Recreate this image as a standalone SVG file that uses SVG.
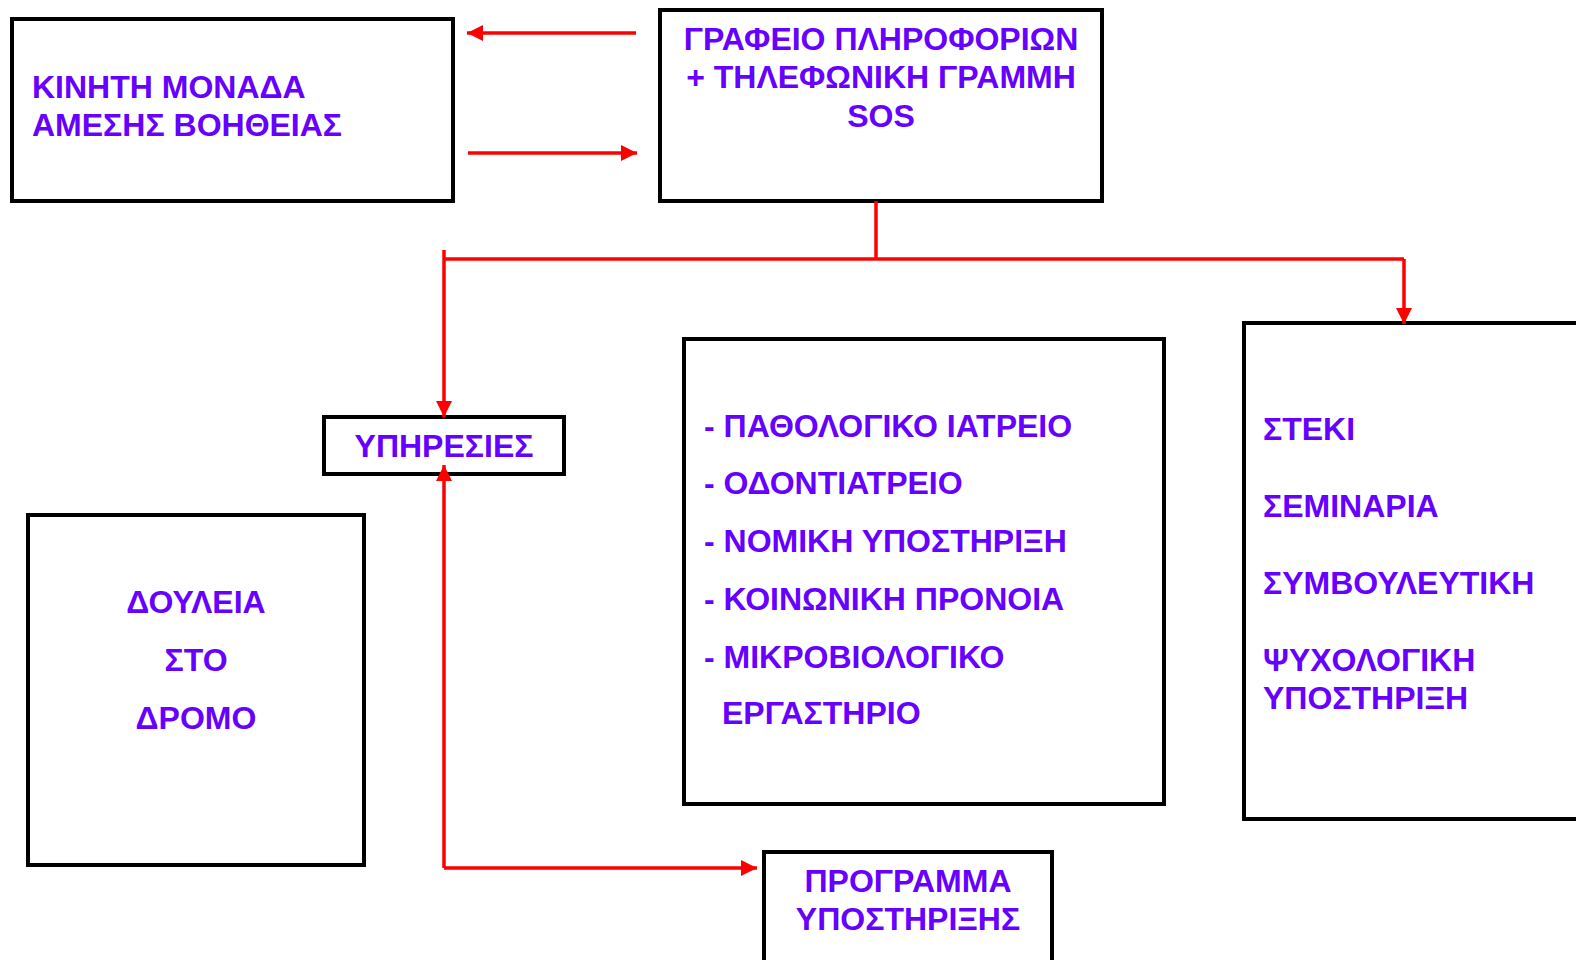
<svg xmlns="http://www.w3.org/2000/svg" width="1576" height="960" viewBox="0 0 1576 960">
<style>
.box{fill:#fff;stroke:#000;stroke-width:4}
.t{font-family:"Liberation Sans",Arial,sans-serif;font-weight:bold;font-size:32px;fill:#6600FF}
.c{text-anchor:middle}
.con{stroke:#FF0000;stroke-width:3.5;fill:none}
</style>
<defs>
<marker id="ah" markerWidth="16" markerHeight="16" refX="16" refY="8" orient="auto" markerUnits="userSpaceOnUse">
<path d="M0,0 L16,8 L0,16 Z" fill="#FF0000"/>
</marker>
</defs>
<rect width="1576" height="960" fill="#fff"/>
<g id="n-kinhth">
<rect class="box" x="12" y="19" width="441" height="182"/>
<text class="t" x="32" y="98">ΚΙΝΗΤΗ ΜΟΝΑΔΑ</text>
<text class="t" x="32" y="136">ΑΜΕΣΗΣ ΒΟΗΘΕΙΑΣ</text>
</g>
<g id="n-grafeio">
<rect class="box" x="660" y="10" width="442" height="191"/>
<text class="t c" x="881" y="50">ΓΡΑΦΕΙΟ ΠΛΗΡΟΦΟΡΙΩΝ</text>
<text class="t c" x="881" y="88">+ ΤΗΛΕΦΩΝΙΚΗ ΓΡΑΜΜΗ</text>
<text class="t c" x="881" y="127">SOS</text>
</g>
<g id="n-yphresies">
<rect class="box" x="324" y="417" width="240" height="57"/>
<text class="t c" x="444" y="457">ΥΠΗΡΕΣΙΕΣ</text>
</g>
<g id="n-douleia">
<rect class="box" x="28" y="515" width="336" height="350"/>
<text class="t c" x="196" y="613">ΔΟΥΛΕΙΑ</text>
<text class="t c" x="196" y="671">ΣΤΟ</text>
<text class="t c" x="196" y="729">ΔΡΟΜΟ</text>
</g>
<g id="n-list">
<rect class="box" x="684" y="339" width="480" height="465"/>
<text class="t" x="704" y="437">- ΠΑΘΟΛΟΓΙΚΟ ΙΑΤΡΕΙΟ</text>
<text class="t" x="704" y="494">- ΟΔΟΝΤΙΑΤΡΕΙΟ</text>
<text class="t" x="704" y="552">- ΝΟΜΙΚΗ ΥΠΟΣΤΗΡΙΞΗ</text>
<text class="t" x="704" y="610">- ΚΟΙΝΩΝΙΚΗ ΠΡΟΝΟΙΑ</text>
<text class="t" x="704" y="668">- ΜΙΚΡΟΒΙΟΛΟΓΙΚΟ</text>
<text class="t" x="722" y="724">ΕΡΓΑΣΤΗΡΙΟ</text>
</g>
<g id="n-steki">
<rect class="box" x="1244" y="323" width="345" height="496"/>
<text class="t" x="1263" y="440">ΣΤΕΚΙ</text>
<text class="t" x="1263" y="517">ΣΕΜΙΝΑΡΙΑ</text>
<text class="t" x="1263" y="594">ΣΥΜΒΟΥΛΕΥΤΙΚΗ</text>
<text class="t" x="1263" y="671">ΨΥΧΟΛΟΓΙΚΗ</text>
<text class="t" x="1263" y="709">ΥΠΟΣΤΗΡΙΞΗ</text>
</g>
<g id="n-programma">
<rect class="box" x="764" y="852" width="288" height="130"/>
<text class="t c" x="908" y="892">ΠΡΟΓΡΑΜΜΑ</text>
<text class="t c" x="908" y="930">ΥΠΟΣΤΗΡΙΞΗΣ</text>
</g>
<g id="connectors">
<line class="con" x1="636" y1="33" x2="467" y2="33" marker-end="url(#ah)"/>
<line class="con" x1="468" y1="153" x2="637" y2="153" marker-end="url(#ah)"/>
<line class="con" x1="876" y1="201" x2="876" y2="259"/>
<line class="con" x1="444" y1="259" x2="1404" y2="259"/>
<line class="con" x1="444" y1="250" x2="444" y2="417" marker-end="url(#ah)"/>
<line class="con" x1="1404" y1="259" x2="1404" y2="324" marker-end="url(#ah)"/>
<line class="con" x1="444" y1="868" x2="444" y2="465" marker-end="url(#ah)"/>
<line class="con" x1="444" y1="868" x2="757" y2="868" marker-end="url(#ah)"/>
</g>
</svg>
